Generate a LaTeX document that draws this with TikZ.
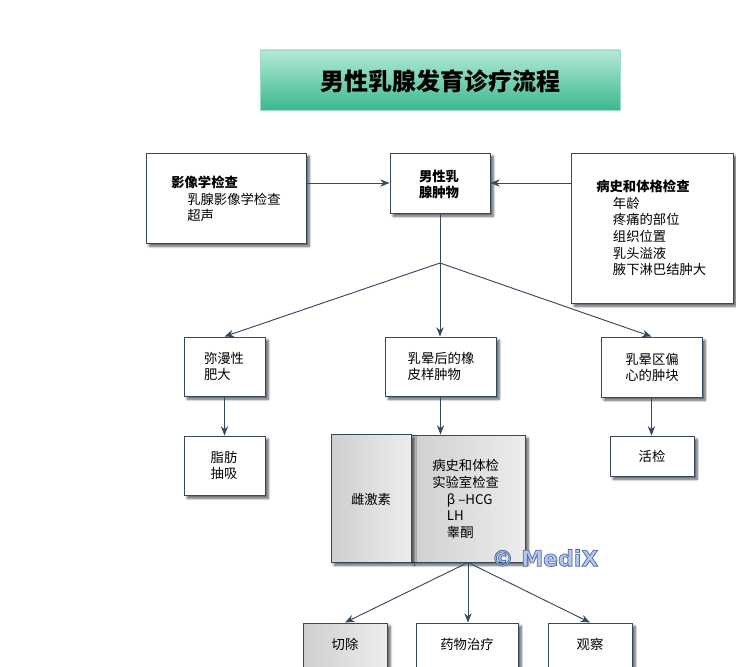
\documentclass[tikz,border=0pt]{standalone}
\usepackage{fontspec}
\setmainfont{Noto Sans CJK SC}
\newfontfamily\wmfont{DejaVu Sans}
\usetikzlibrary{arrows.meta,shadows,fit}
\newcommand\wmoutline[1]{\special{pdf:literal direct q 2 Tr 0.55 w 0.30 0.42 0.64 RG}#1\special{pdf:literal direct Q}}
\definecolor{linec}{HTML}{34495E}
\definecolor{ttop}{HTML}{B4EAD6}
\definecolor{tbot}{HTML}{3CB88F}
\definecolor{tbord}{HTML}{A0DCC4}
\definecolor{wmc}{HTML}{B4C6EC}
\newif\ifhaveblur
\IfFileExists{tikzlibraryshadows.blur.code.tex}{\haveblurtrue}{}
\ifhaveblur
  \usetikzlibrary{shadows.blur}
  \tikzset{myshadow/.style={blur shadow={shadow xshift=2.4pt, shadow yshift=-2.4pt, shadow blur steps=6, shadow blur radius=1.8pt, shadow opacity=65}}}
\else
  \tikzset{myshadow/.style={drop shadow={shadow xshift=2.2pt, shadow yshift=-2.2pt, fill=black!45, opacity=0.4}}}
\fi
\tikzset{
  box/.style={draw=linec, line width=0.7pt, fill=white, inner sep=0pt, myshadow},
  graybox/.style={box, left color=black!19, right color=black!7},
  txt/.style={font=\fontsize{10}{12.5}\selectfont, align=left, inner sep=0pt, text=black},
  arr/.style={draw=linec, line width=0.7pt, -{Stealth[length=7pt,width=5.5pt]}},
  ln/.style={draw=linec, line width=0.7pt}
}
\begin{document}
\begin{tikzpicture}[x=0.75pt,y=-0.75pt]
\useasboundingbox (0,0) rectangle (736,667);
% title
\node[fit={(260,50)(620,110)}, inner sep=0pt, top color=ttop, bottom color=tbot, draw=tbord, line width=0.6pt] (T) {};
\node[font=\fontsize{18}{20}\selectfont\bfseries, inner sep=0pt] (Tt) at (440,81) {男性乳腺发育诊疗流程};
% top row
\node[box, fit={(146,153)(306,243)}] (L) {};
\node[txt, anchor=west] (Lt) at (171,199) {\bfseries 影像学检查\\\hspace*{12pt}乳腺影像学检查\\\hspace*{12pt}超声};
\node[box, fit={(390,153)(490,213)}] (C) {};
\node[txt, align=center, font=\fontsize{10}{12.5}\selectfont\bfseries] (Ct) at (439,184.5) {男性乳\\腺肿物};
\node[box, fit={(571,153)(733,303)}] (R) {};
\node[txt, anchor=west] (Rt) at (596,228) {\bfseries 病史和体格检查\\\hspace*{12.5pt}年龄\\\hspace*{12.5pt}疼痛的部位\\\hspace*{12.5pt}组织位置\\\hspace*{12.5pt}乳头溢液\\\hspace*{12.5pt}腋下淋巴结肿大};
% second row
\node[box, fit={(184,337)(265,396)}] (A) {};
\node[txt] (At) at (224,366.5) {弥漫性\\肥大};
\node[box, fit={(385,337)(496,396)}] (M) {};
\node[txt] (Mt) at (441,366.5) {乳晕后的橡\\皮样肿物};
\node[box, fit={(601,337)(702,397)}] (E) {};
\node[txt] (Et) at (652,367.5) {乳晕区偏\\心的肿块};
% third row
\node[box, fit={(184,436)(265,495)}] (D) {};
\node[txt] (Dt) at (224,465.5) {脂肪\\抽吸};
\node[graybox, fit={(411,435)(525,562)}] (G2) {};
\node[graybox, fit={(331,434)(411,562)}] (G1) {};
\node[txt] (G1t) at (371,499) {雌激素};
\node[txt, anchor=west] (G2t) at (432,499) {病史和体检\\实验室检查\\\hspace*{11pt}β –HCG\\\hspace*{11pt}LH\\\hspace*{11pt}睾酮};
\node[box, fit={(610,436)(694,476)}] (H) {};
\node[txt] (Ht) at (652,456.5) {活检};
% bottom row
\node[graybox, fit={(303,623)(387,672)}] (B1) {};
\node[txt] (B1t) at (345,644.5) {切除};
\node[box, fit={(416,623)(518,672)}] (B2) {};
\node[txt] (B2t) at (467,644.5) {药物治疗};
\node[box, fit={(548,623)(632,672)}] (B3) {};
\node[txt] (B3t) at (590,644.5) {观察};
% watermark
\node[font=\wmfont\fontsize{16.5}{18}\selectfont\bfseries, text=wmc, inner sep=0pt] (wm) at (545,558) {\wmoutline{© MediX}};
% connectors
\coordinate (J) at (440,263);
\draw[arr] (C.west -| L.east) -- (C.west);
\draw[arr] (C.east -| R.west) -- (C.east);
\draw[ln] (C.south) -- (J);
\draw[arr] (J) -- (A.north);
\draw[arr] (J) -- (M.north -| J);
\draw[arr] (J) -- (E.north);
\draw[arr] (A.south) -- (A.south |- D.north);
\draw[arr] (M.south) -- (M.south |- G2.north);
\draw[arr] (E.south) -- (E.south |- H.north);
\draw[arr] (G2.south) -- (B1.north);
\draw[arr] (G2.south) -- (G2.south |- B2.north);
\draw[arr] (G2.south) -- (B3.north);
\end{tikzpicture}
\end{document}
